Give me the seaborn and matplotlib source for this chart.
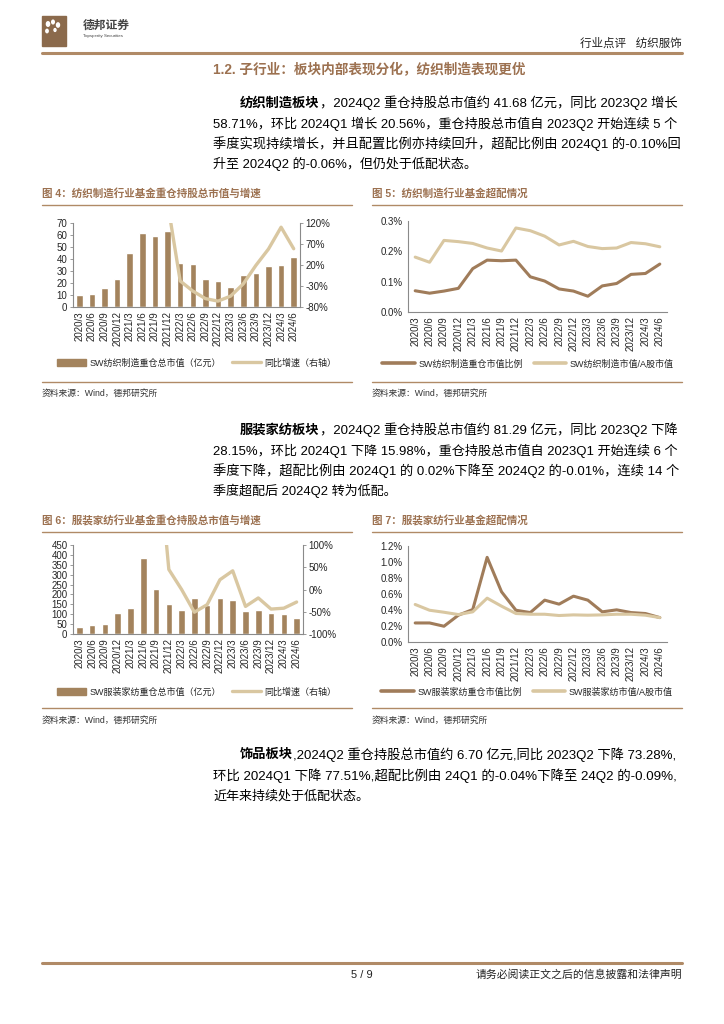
import numpy as np
import pandas as pd
import matplotlib
matplotlib.use("Agg")
import matplotlib.pyplot as plt
from matplotlib.patches import Rectangle, Circle
from matplotlib.lines import Line2D
from matplotlib.ticker import FuncFormatter
import seaborn as sns

sns.set_style("white")
plt.rcParams['font.family'] = ['Liberation Sans', 'Noto Sans CJK SC', 'DejaVu Sans']
plt.rcParams['axes.unicode_minus'] = False

# ---------------- data ----------------
quarters = ["2020/3", "2020/6", "2020/9", "2020/12", "2021/3", "2021/6", "2021/9", "2021/12",
            "2022/3", "2022/6", "2022/9", "2022/12", "2023/3", "2023/6", "2023/9", "2023/12",
            "2024/3", "2024/6"]

# 图4 纺织制造
textile_mv = [10, 11, 16, 23.5, 45, 61.5, 59.5, 63, 37, 35.5, 23.5, 21.5, 17, 26.5, 28, 34.5, 34.8, 41.68]
textile_yoy = [np.nan] * 7 + [168, -18, -42, -60, -66, -54, -25, 19, 58, 110, 58.71]

# 图5 纺织制造超配
textile_hold = [0.070, 0.062, 0.069, 0.078, 0.143, 0.171, 0.169, 0.171, 0.116, 0.102, 0.076,
                0.069, 0.052, 0.086, 0.094, 0.124, 0.127, 0.158]
textile_mkt = [0.181, 0.164, 0.236, 0.232, 0.226, 0.211, 0.201, 0.277, 0.268, 0.250, 0.221,
               0.233, 0.216, 0.209, 0.211, 0.229, 0.225, 0.215]

# 图6 服装家纺
apparel_mv = [37, 47, 50, 106, 130, 385, 229, 152, 120, 184, 148, 184, 170, 116, 123, 105, 99, 81.29]
apparel_yoy = [np.nan] * 6 + [355, 45, 0, -51, -34, 22, 42, -38, -19, -44, -42, -28.15]

# 图7 服装家纺超配
apparel_hold = [0.238, 0.238, 0.197, 0.335, 0.406, 1.058, 0.628, 0.397, 0.368, 0.523, 0.473,
                0.573, 0.523, 0.377, 0.402, 0.368, 0.356, 0.305]
apparel_mkt = [0.469, 0.397, 0.372, 0.343, 0.377, 0.548, 0.448, 0.356, 0.347, 0.347, 0.331,
               0.339, 0.335, 0.339, 0.347, 0.347, 0.335, 0.305]

BAR = "#a3835d"
DARK = "#a07c5a"
LIGHT = "#d9c7a1"
BROWN = "#9c7150"
RULE = "#b08a66"
SPINE = "#8a8a8a"

W, H = 724, 1024
fig = plt.figure(figsize=(W / 100, H / 100), dpi=100)


def px_axes(x0, y0, x1, y1):
    return fig.add_axes([x0 / W, 1 - y1 / H, (x1 - x0) / W, (y1 - y0) / H])


def ftext(x, y, s, **kw):
    kw.setdefault("va", "center")
    return fig.text(x / W, 1 - y / H, s, **kw)


def hline(x0, x1, y, lw=1.0, color=RULE):
    fig.add_artist(Line2D([x0 / W, x1 / W], [1 - y / H, 1 - y / H], color=color, lw=lw))


renderer = fig.canvas.get_renderer()


def para_line(x, y, bold, rest, size=9.4, full=True, right=677):
    # full lines are stretched (via font size) to reach the right margin, like justified text
    parts = []
    if bold:
        parts.append(ftext(x, y, bold, fontsize=size, fontweight="bold", color="black"))
    parts.append(ftext(x, y, rest, fontsize=size, color="black"))
    widths = [p.get_window_extent(renderer).width for p in parts]
    if full:
        scale = min(max((right - x) / sum(widths), 0.92), 1.06)
        for p in parts:
            p.set_fontsize(size * scale)
    cx = x
    for p in parts:
        p.set_x(cx / W)
        cx += p.get_window_extent(renderer).width


def style_axes(ax):
    for s in ["top", "right"]:
        ax.spines[s].set_visible(False)
    for s in ["left", "bottom"]:
        ax.spines[s].set_color(SPINE)
        ax.spines[s].set_linewidth(0.8)
    ax.tick_params(axis="y", labelsize=7, length=2, width=0.6, color=SPINE, pad=2)
    ax.tick_params(axis="x", labelsize=7, length=0, pad=3, rotation=90)
    ax.set_xlabel("")
    ax.set_ylabel("")


def bar_chart(box, values, yoy, ylim, yticks, y2lim, y2ticks, bar_label, legend_y, legend_x):
    ax = px_axes(*box)
    sns.barplot(x=quarters, y=values, color=BAR, width=0.52, saturation=1, ax=ax)
    ax.set_xlim(-0.5, len(quarters) - 0.5)
    ax.set_ylim(*ylim)
    ax.set_yticks(yticks)
    style_axes(ax)
    ax2 = ax.twinx()
    sns.lineplot(x=np.arange(len(quarters)), y=yoy, color=LIGHT, lw=2.4, ax=ax2)
    ax2.set_ylim(*y2lim)
    ax2.set_yticks(y2ticks)
    ax2.yaxis.set_major_formatter(FuncFormatter(lambda v, p: f"{v:.0f}%"))
    for s in ["top", "left", "bottom"]:
        ax2.spines[s].set_visible(False)
    ax2.spines["right"].set_color(SPINE)
    ax2.spines["right"].set_linewidth(0.8)
    ax2.tick_params(axis="y", labelsize=7, length=2, width=0.6, color=SPINE, pad=2)
    handles = [Rectangle((0, 0), 1, 1, color=BAR), Line2D([], [], color=LIGHT, lw=2.4)]
    fig.legend(handles, [bar_label, "同比增速（右轴）"], loc="center",
               bbox_to_anchor=(legend_x / W, 1 - legend_y / H), ncol=2, frameon=False,
               fontsize=6.5, handlelength=3.2, handleheight=0.7, columnspacing=1.2, handletextpad=0.4)


def line_chart(box, hold, mkt, ylim, yticks, fmt, labels, legend_y, legend_x):
    ax = px_axes(*box)
    xs = np.arange(len(quarters))
    sns.lineplot(x=xs, y=hold, color=DARK, lw=2.2, ax=ax)
    sns.lineplot(x=xs, y=mkt, color=LIGHT, lw=2.2, ax=ax)
    ax.set_xticks(xs)
    ax.set_xticklabels(quarters)
    ax.set_xlim(-0.5, len(quarters) - 0.5)
    ax.set_ylim(*ylim)
    ax.set_yticks(yticks)
    ax.yaxis.set_major_formatter(FuncFormatter(fmt))
    style_axes(ax)
    handles = [Line2D([], [], color=DARK, lw=2.6), Line2D([], [], color=LIGHT, lw=2.6)]
    fig.legend(handles, labels, loc="center",
               bbox_to_anchor=(legend_x / W, 1 - legend_y / H), ncol=2, frameon=False,
               fontsize=6.5, handlelength=3.6, columnspacing=1.2, handletextpad=0.4)


# ---------------- header ----------------
fig.add_artist(Rectangle((42 / W, 1 - 46 / H), 24 / W, 30 / H, color="#8b6a4c"))
for cx, cy, r in [(48, 24, 1.6), (53, 22, 1.3), (58, 25, 1.5), (47, 31, 1.2), (55, 30, 1.0)]:
    fig.add_artist(Circle((cx / W, 1 - cy / H), r / W, color="white"))
ftext(83, 26, "德邦证券", fontsize=8.5, fontweight="bold", color="#444444")
ftext(83, 36, "Topsperity Securities", fontsize=3.2, color="#444444")
ftext(682, 44, "行业点评   纺织服饰", fontsize=8.3, ha="right", color="#222222")
hline(42, 682, 53, lw=2.2)

ftext(213, 70, "1.2. 子行业：板块内部表现分化，纺织制造表现更优", fontsize=9.8,
      fontweight="bold", color=BROWN)

para_line(240, 103, "纺织制造板块", "，2024Q2 重仓持股总市值约 41.68 亿元，同比 2023Q2 增长")
para_line(213, 124, "", "58.71%，环比 2024Q1 增长 20.56%，重仓持股总市值自 2023Q2 开始连续 5 个")
para_line(213, 144, "", "季度实现持续增长，并且配置比例亦持续回升，超配比例由 2024Q1 的-0.10%回")
para_line(213, 164, "", "升至 2024Q2 的-0.06%，但仍处于低配状态。", full=False)

# ---------------- figure 4 / 5 ----------------
ftext(42, 193, "图 4：纺织制造行业基金重仓持股总市值与增速", fontsize=7.6, fontweight="bold", color=BROWN)
ftext(372, 193, "图 5：纺织制造行业基金超配情况", fontsize=7.6, fontweight="bold", color=BROWN)
hline(42, 352, 205)
hline(372, 682, 205)

bar_chart((73, 223, 300, 307), textile_mv, textile_yoy, (0, 70), range(0, 71, 10),
          (-80, 120), [-80, -30, 20, 70, 120], "SW纺织制造重仓总市值（亿元）", 363, 197)
line_chart((408, 221, 667, 312), textile_hold, textile_mkt, (0, 0.3), [0, 0.1, 0.2, 0.3],
           lambda v, p: f"{v:.1f}%", ["SW纺织制造重仓市值比例", "SW纺织制造市值/A股市值"], 364, 528)

hline(42, 352, 382)
hline(372, 682, 382)
ftext(42, 393, "资料来源：Wind，德邦研究所", fontsize=6.3, color="#333333")
ftext(372, 393, "资料来源：Wind，德邦研究所", fontsize=6.3, color="#333333")

# ---------------- paragraph 2 ----------------
para_line(240, 430, "服装家纺板块", "，2024Q2 重仓持股总市值约 81.29 亿元，同比 2023Q2 下降")
para_line(213, 451, "", "28.15%，环比 2024Q1 下降 15.98%，重仓持股总市值自 2023Q1 开始连续 6 个")
para_line(213, 471, "", "季度下降，超配比例由 2024Q1 的 0.02%下降至 2024Q2 的-0.01%，连续 14 个")
para_line(213, 491, "", "季度超配后 2024Q2 转为低配。", full=False)

# ---------------- figure 6 / 7 ----------------
ftext(42, 521, "图 6：服装家纺行业基金重仓持股总市值与增速", fontsize=7.6, fontweight="bold", color=BROWN)
ftext(372, 521, "图 7：服装家纺行业基金超配情况", fontsize=7.6, fontweight="bold", color=BROWN)
hline(42, 352, 532)
hline(372, 682, 532)

bar_chart((73, 545, 303, 634), apparel_mv, apparel_yoy, (0, 450), range(0, 451, 50),
          (-100, 100), [-100, -50, 0, 50, 100], "SW服装家纺重仓总市值（亿元）", 692, 197)
line_chart((408, 546, 667, 642), apparel_hold, apparel_mkt, (0, 1.2), [0, 0.2, 0.4, 0.6, 0.8, 1.0, 1.2],
           lambda v, p: f"{v:.1f}%", ["SW服装家纺重仓市值比例", "SW服装家纺市值/A股市值"], 692, 527)

hline(42, 352, 708)
hline(372, 682, 708)
ftext(42, 720, "资料来源：Wind，德邦研究所", fontsize=6.3, color="#333333")
ftext(372, 720, "资料来源：Wind，德邦研究所", fontsize=6.3, color="#333333")

# ---------------- paragraph 3 ----------------
para_line(240, 755, "饰品板块", ",2024Q2 重仓持股总市值约 6.70 亿元,同比 2023Q2 下降 73.28%,")
para_line(213, 776, "", "环比 2024Q1 下降 77.51%,超配比例由 24Q1 的-0.04%下降至 24Q2 的-0.09%,")
para_line(213, 796, "", "近年来持续处于低配状态。", full=False)

# ---------------- footer ----------------
hline(42, 682, 963, lw=2.2)
ftext(362, 975, "5 / 9", fontsize=8, ha="center", color="#222222")
ftext(682, 975, "请务必阅读正文之后的信息披露和法律声明", fontsize=7.8, ha="right", color="#222222")

fig.savefig("out.png", dpi=100)
